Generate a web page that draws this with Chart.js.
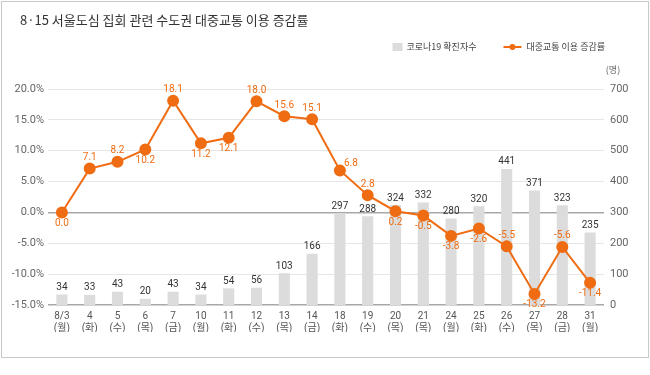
<!DOCTYPE html>
<html>
<head>
<meta charset="utf-8">
<script src="https://cdn.jsdelivr.net/npm/chart.js@4"></script>
<style>
  body { margin: 0; background: #fff; }
  #wrap { position: absolute; left: 1px; top: 1px; width: 646px; height: 355px; border: 1px solid #c8c8c8; }
</style>
</head>
<body>
<div id="wrap"><canvas id="c"></canvas></div>
<script>
const title = '8·15 서울도심 집회 관련 수도권 대중교통 이용 증감률';
const days = ['8/3', '4', '5', '6', '7', '10', '11', '12', '13', '14', '18', '19', '20', '21', '24', '25', '26', '27', '28', '31'];
const weekdays = ['(월)', '(화)', '(수)', '(목)', '(금)', '(월)', '(화)', '(수)', '(목)', '(금)', '(화)', '(수)', '(목)', '(목)', '(월)', '(화)', '(수)', '(목)', '(금)', '(월)'];
const cases = [34, 33, 43, 20, 43, 34, 54, 56, 103, 166, 297, 288, 324, 332, 280, 320, 441, 371, 323, 235];
const transit = [0.0, 7.1, 8.2, 10.2, 18.1, 11.2, 12.1, 18.0, 15.6, 15.1, 6.8, 2.8, 0.2, -0.5, -3.8, -2.6, -5.5, -13.2, -5.6, -11.4];
// where each line label sits: a = above, b = below, r = up-right
const transitLabelSide = ['b', 'a', 'a', 'b', 'a', 'b', 'b', 'a', 'a', 'a', 'r', 'a', 'b', 'b', 'b', 'b', 'a', 'b', 'a', 'b'];
const casesLabel = '코로나19 확진자수';
const transitLabel = '대중교통 이용 증감률';
const unitLabel = '(명)';

const ORANGE = '#ef6c12';
const BAR = '#dcdcdc';
const FONT = "Roboto, 'Noto Sans CJK KR', sans-serif";

const labels = days.map((d, i) => [d, weekdays[i]]);

const decor = {
  id: 'decor',
  afterDraw(chart) {
    const ctx = chart.ctx;
    ctx.save();
    ctx.textBaseline = 'middle';
    ctx.fillStyle = '#333';
    ctx.font = "13px 'Noto Sans CJK KR', sans-serif";
    ctx.textAlign = 'left';
    ctx.fillText(title, 18, 18);

    // legend
    ctx.font = "9px 'Noto Sans CJK KR', sans-serif";
    const R = 603, y = 45;
    const w2 = ctx.measureText(transitLabel).width;
    const w1 = ctx.measureText(casesLabel).width;
    const t2 = R - w2;
    const lEnd = t2 - 5, lStart = lEnd - 18;
    const t1 = lStart - 27 - w1;
    ctx.fillStyle = '#444';
    ctx.fillText(transitLabel, t2, y);
    ctx.fillText(casesLabel, t1, y);
    ctx.fillStyle = BAR;
    ctx.fillRect(t1 - 14, y - 4, 10, 8);
    ctx.strokeStyle = ORANGE;
    ctx.lineWidth = 2;
    ctx.beginPath();
    ctx.moveTo(lStart, y);
    ctx.lineTo(lEnd, y);
    ctx.stroke();
    ctx.fillStyle = ORANGE;
    ctx.beginPath();
    ctx.arc((lStart + lEnd) / 2, y, 3, 0, Math.PI * 2);
    ctx.fill();

    // unit
    ctx.fillStyle = '#666';
    ctx.font = "9px 'Noto Sans CJK KR', sans-serif";
    ctx.textAlign = 'center';
    ctx.fillText(unitLabel, chart.chartArea.right + 9, 68);
    ctx.restore();
  },
  afterDatasetsDraw(chart) {
    const ctx = chart.ctx;
    ctx.save();
    ctx.textAlign = 'center';
    ctx.textBaseline = 'middle';
    ctx.font = '10px ' + FONT;
    ctx.fillStyle = '#333';
    chart.getDatasetMeta(1).data.forEach((bar, i) => {
      ctx.fillText(cases[i], bar.x, bar.y - 7);
    });
    ctx.fillStyle = ORANGE;
    chart.getDatasetMeta(0).data.forEach((pt, i) => {
      const side = transitLabelSide[i];
      let x = pt.x, y = pt.y;
      if (side === 'a') y -= 11;
      else if (side === 'b') y += 11;
      else { x += 11; y -= 7; }
      ctx.fillText(transit[i].toFixed(1), x, y);
    });
    ctx.restore();
  }
};

new Chart(document.getElementById('c'), {
  data: {
    labels: labels,
    datasets: [
      {
        type: 'line',
        label: transitLabel,
        data: transit,
        yAxisID: 'y',
        borderColor: ORANGE,
        backgroundColor: ORANGE,
        borderWidth: 2,
        pointRadius: 5,
        pointHoverRadius: 5,
        tension: 0,
        order: 0
      },
      {
        type: 'bar',
        label: casesLabel,
        data: cases,
        yAxisID: 'y1',
        backgroundColor: BAR,
        barPercentage: 0.4,
        categoryPercentage: 1,
        order: 1
      }
    ]
  },
  options: {
    responsive: true,
    maintainAspectRatio: false,
    animation: false,
    layout: { padding: { left: 10, right: 20, top: 87, bottom: 25 } },
    plugins: {
      legend: { display: false },
      tooltip: { enabled: false }
    },
    scales: {
      x: {
        grid: { display: false },
        border: { display: false },
        ticks: { color: '#555', font: { size: 10, family: FONT, lineHeight: 1.25 }, padding: -3, maxRotation: 0, autoSkip: false }
      },
      y: {
        position: 'left',
        min: -15,
        max: 20,
        afterFit(scale) { scale.width = 36; },
        ticks: { stepSize: 5, color: '#666', font: { size: 11, family: FONT }, padding: 4,
          callback: v => v.toFixed(1) + '%' },
        grid: {
          drawTicks: false,
          color: c => (c.tick.value === 0 || c.tick.value === -15) ? '#a8a8a8' : '#e6e6e6',
          lineWidth: c => (c.tick.value === 0 || c.tick.value === -15) ? 1.5 : 1
        },
        border: { display: false }
      },
      y1: {
        position: 'right',
        min: 0,
        max: 700,
        afterFit(scale) { scale.width = 24; },
        ticks: { stepSize: 100, color: '#666', font: { size: 11, family: FONT }, padding: 6 },
        grid: { display: false, drawTicks: false },
        border: { display: false }
      }
    }
  },
  plugins: [decor]
});
</script>
</body>
</html>
